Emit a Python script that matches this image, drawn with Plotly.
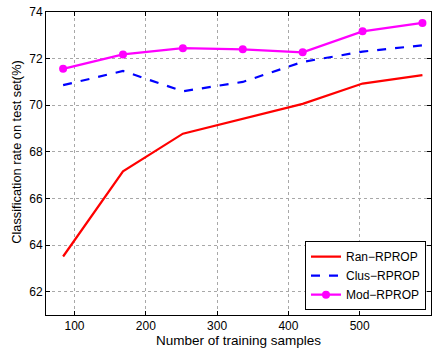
import plotly.graph_objects as go

samples = [84, 168, 252, 336, 420, 504, 588]
ran_rprop = [63.51, 67.16, 68.78, 69.42, 70.06, 70.93, 71.29]
clus_rprop = [70.86, 71.47, 70.60, 71.00, 71.86, 72.30, 72.57]
mod_rprop = [71.56, 72.18, 72.45, 72.40, 72.27, 73.17, 73.53]

x_ticks = [100, 200, 300, 400, 500, 600]
y_ticks = [62, 64, 66, 68, 70, 72, 74]

fig = go.Figure()
fig.add_trace(go.Scatter(x=samples, y=ran_rprop, mode="lines", name="Ran\u2212RPROP",
                         line=dict(color="#ff0000", width=2.2)))
fig.add_trace(go.Scatter(x=samples, y=clus_rprop, mode="lines", name="Clus\u2212RPROP",
                         line=dict(color="#0000ff", width=2.2, dash="dash")))
fig.add_trace(go.Scatter(x=samples, y=mod_rprop, mode="lines+markers", name="Mod\u2212RPROP",
                         line=dict(color="#ff00ff", width=2.2),
                         marker=dict(color="#ff00ff", size=8)))

axis_common = dict(showline=True, linecolor="black", linewidth=1, mirror="ticks",
                   ticks="inside", ticklen=4, tickcolor="black",
                   showgrid=True, gridcolor="#a8a8a8", griddash="dot", gridwidth=1,
                   zeroline=False, tickfont=dict(size=12, color="black"),
                   automargin=False)

fig.update_xaxes(range=[60, 600], tickvals=x_ticks, **axis_common)
fig.update_yaxes(range=[61, 74], tickvals=y_ticks, **axis_common)

fig.add_annotation(text="Number of training samples", xref="paper", yref="paper",
                   x=0.5, y=-0.052, xanchor="center", yanchor="top", showarrow=False,
                   font=dict(size=13.5, color="black"))
fig.add_annotation(text="Classification rate on test set(%)", xref="paper", yref="paper",
                   x=-0.076, y=0.538, xanchor="center", yanchor="middle", showarrow=False,
                   textangle=-90, font=dict(size=12.8, color="black"))

fig.update_layout(
    width=440, height=352,
    margin=dict(l=46, r=9, t=12, b=37, autoexpand=False),
    paper_bgcolor="white", plot_bgcolor="white",
    font=dict(family="Liberation Sans, Arial, sans-serif", color="black"),
    showlegend=True,
    legend=dict(x=0.987, y=0.016, xanchor="right", yanchor="bottom",
                bgcolor="white", bordercolor="black", borderwidth=1,
                font=dict(size=12, color="black"), tracegroupgap=0,
                itemwidth=30),
)

fig.write_html("out.html", config={"displayModeBar": False},
               post_script="document.body.style.margin='0';document.body.style.padding='0';")
